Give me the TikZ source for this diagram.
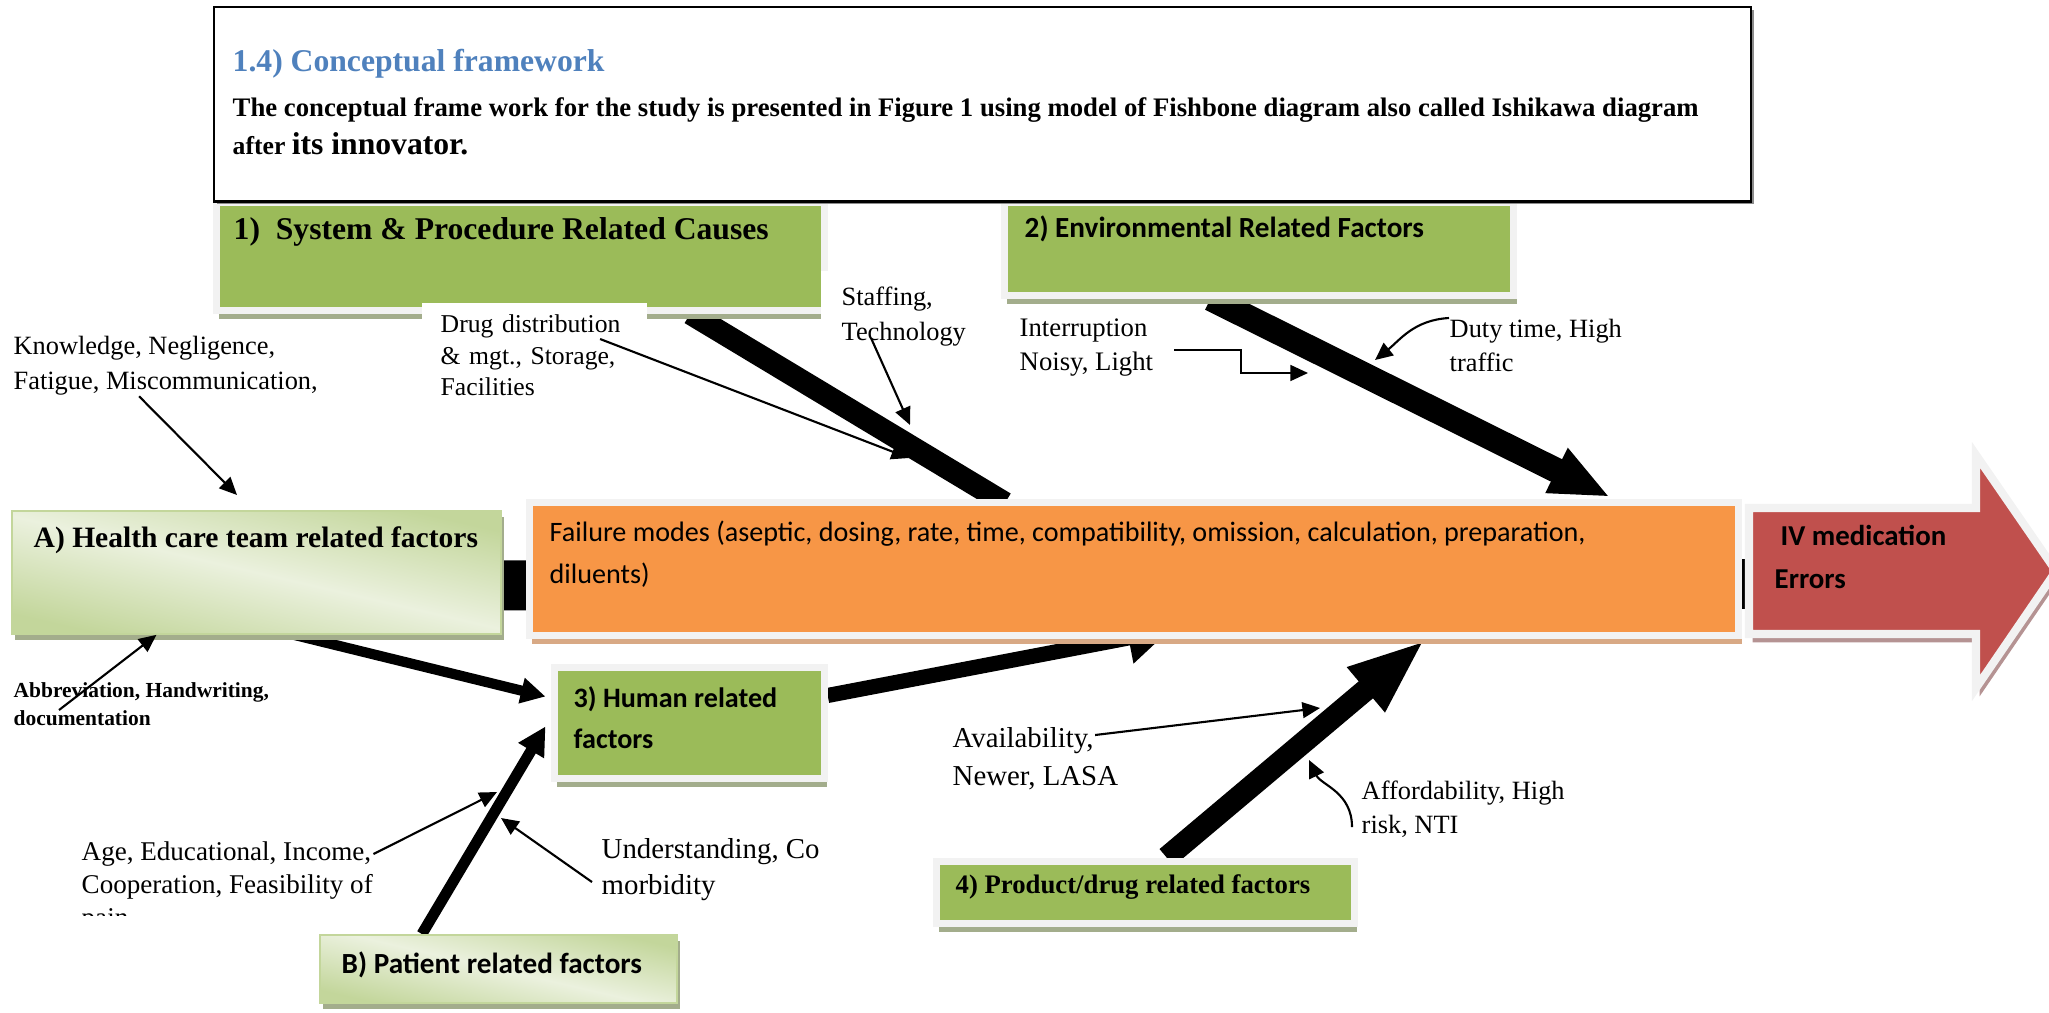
\documentclass[tikz,border=0pt]{standalone}
\usepackage{fontspec}
\setmainfont{Liberation Serif}
\newfontfamily\calibri{Carlito}
\usetikzlibrary{positioning, arrows.meta, shadows, backgrounds, calc}
\definecolor{grass}{HTML}{9BBB59}
\definecolor{tangerine}{HTML}{F79646}
\definecolor{brick}{HTML}{C0504D}
\definecolor{rim}{HTML}{F2F2F2}
\definecolor{pale}{HTML}{EBF1DE}
\definecolor{paledark}{HTML}{C3D69B}
\definecolor{moss}{HTML}{A3AD8C}
\definecolor{peach}{HTML}{D8A985}
\definecolor{mauve}{HTML}{B59393}
\definecolor{heading}{HTML}{4F81BD}

\begin{document}
\begin{tikzpicture}[x=0.01cm, y=-0.01cm,
	wordbox/.style={draw=rim, line width=2pt, inner sep=0pt, anchor=north west,
		drop shadow={shadow xshift=0.9pt, shadow yshift=-2.5pt, fill=#1, opacity=1}},
	greenbox/.style={wordbox=moss, fill=grass},
	palebox/.style={draw=paledark, line width=0.5pt, inner sep=0pt, anchor=north west,
		top color=paledark, bottom color=paledark, middle color=pale, shading angle=-13,
		drop shadow={shadow xshift=0.8pt, shadow yshift=-1.6pt, fill=moss, opacity=1}},
	txt/.style={anchor=west, inner sep=0pt},
	lbl/.style={anchor=north west, align=left, inner sep=0pt},
	arr/.style={line width=0.6pt, -{Triangle[length=5pt, width=4.5pt]}}]
	\useasboundingbox (0,0) rectangle (2049,1012);

	% boxes
	\node[greenbox, minimum width=6.08cm, minimum height=1.08cm] (sys) at (212.5,198.5) {};
	\node[greenbox, minimum width=5.09cm, minimum height=0.93cm] (env) at (1000.5,198.5) {};
	\node[palebox, minimum width=4.89cm, minimum height=1.23cm] (hc) at (11,510) {};
	\node[palebox, minimum width=3.57cm, minimum height=0.68cm] (pat) at (319,934) {};
	\node[greenbox, minimum width=2.70cm, minimum height=1.11cm] (human) at (550.5,663.5) {};
	\node[greenbox, minimum width=4.18cm, minimum height=0.62cm] (prod) at (932.5,857.5) {};
	\node[wordbox=peach, fill=tangerine, minimum width=12.09cm, minimum height=1.33cm] (fm) at (525.5,498.5) {};
	\filldraw[fill=brick, draw=rim, line width=2.3pt,
		drop shadow={shadow xshift=1pt, shadow yshift=-2.4pt, fill=mauve, opacity=1}]
		(1749,508) -- (1976,508) -- (1976,455) -- (2056,571) -- (1976,688) -- (1976,634) -- (1749,634) -- cycle;
	\coordinate (errtail) at (1749,584);

	\node[draw=black, line width=0.7pt, fill=white, inner sep=0pt, anchor=north west,
		minimum width=15.36cm, minimum height=1.94cm,
		drop shadow={shadow xshift=0.8pt, shadow yshift=-0.8pt, fill=black!45, opacity=1}] (frame) at (213,6) {};
	\node[txt, text=heading, font=\bfseries\fontsize{9}{11}\selectfont] (title) at (232,64) {1.4) Conceptual framework};
	\node[txt, font=\bfseries\fontsize{7.6}{9}\selectfont] (intro) at (232,110)
		{The conceptual frame work for the study is presented in Figure 1 using model of Fishbone diagram also called Ishikawa diagram};
	\node[txt, font=\bfseries\fontsize{7.3}{9}\selectfont] (introend) at (232,144) {after {\fontsize{9}{11}\selectfont its innovator.}};

	\node[txt, font=\bfseries\fontsize{9}{11}\selectfont] (systext) at (233,232) {1)\ \ System \& Procedure Related Causes};
	\node[txt, font=\calibri\bfseries\fontsize{8.3}{10}\selectfont] (envtext) at (1024,229) {2) Environmental Related Factors};
	\node[txt, font=\bfseries\fontsize{8.4}{10}\selectfont] (hctext) at (33,540) {A) Health care team related factors};
	\node[txt, align=left, font=\calibri\bfseries\fontsize{8}{11.7}\selectfont] (humantext) at (573,718) {3) Human related\\factors};
	\node[txt, font=\bfseries\fontsize{7.6}{9}\selectfont] (prodtext) at (955,887) {4) Product/drug related factors};
	\node[txt, font=\calibri\bfseries\fontsize{8.3}{10}\selectfont] (pattext) at (341,965) {B) Patient related factors};
	\node[txt, align=left, font=\calibri\fontsize{8}{12}\selectfont] (fmtext) at (549,554)
		{Failure modes (aseptic, dosing, rate, time, compatibility, omission, calculation, preparation,\\diluents)};
	\node[txt, align=left, font=\calibri\bfseries\fontsize{8.2}{12}\selectfont] (errtext) at (1774,557) {\hspace*{0.06cm}IV medication\\Errors};

	% bones
	\coordinate (b1end) at (1005,503);
	\coordinate (b2end) at (1610,497);
	\coordinate (b3end) at (1170,630);
	\coordinate (b4end) at (1425,640);
	\begin{scope}[on background layer]
		\draw[line width=14.2pt] ([yshift=-3.7pt]hc.east) -- (errtail);
		\draw[line width=6.3pt] ([xshift=1.70cm]sys.south) -- (b1end);
		\draw[line width=7.1pt, -{Triangle[length=17pt, width=13pt]}] ([xshift=-0.48cm]env.south) -- (b2end);
		\draw[line width=4.3pt, -{Triangle[length=12pt, width=14pt]}] ([yshift=7.7pt]human.east) -- (b3end);
		\draw[line width=6.3pt, -{Triangle[length=22pt, width=15pt]}] ([xshift=0.215cm]prod.north) -- (b4end);
		\draw[line width=2.9pt, -{Triangle[length=7pt, width=7pt]}] ([xshift=0.375cm]hc.south) -- ([xshift=-0.05cm, yshift=7.4pt]human.west);
		\draw[line width=3.1pt, -{Triangle[length=8pt, width=8pt]}] ([xshift=-0.765cm]pat.north) -- ([xshift=-0.05cm, yshift=-1.1pt]human.west);
	\end{scope}

	% causes
	\node[lbl, font=\fontsize{7.5}{10.2}\selectfont] (know) at (13,335) {Knowledge, Negligence,\\Fatigue, Miscommunication,};
	\node[lbl, fill=white, inner xsep=0.19cm, inner ysep=0.12cm, text width=1.87cm, font=\fontsize{7.3}{9}\selectfont] (drug) at (421,302)
		{Drug distribution\\\& mgt., Storage,\\Facilities};
	\node[lbl, fill=white, inner xsep=0.21cm, inner ysep=0.16cm, font=\fontsize{7.5}{10}\selectfont] (staff) at (820,270) {Staffing,\\Technology};
	\node[lbl, font=\fontsize{7.6}{9.7}\selectfont] (intr) at (1019,318) {Interruption\\Noisy, Light};
	\node[lbl, font=\fontsize{7.5}{9.7}\selectfont] (duty) at (1449,318) {Duty time, High\\traffic};
	\node[lbl, font=\bfseries\fontsize{6.1}{8}\selectfont] (abbr) at (13,682) {Abbreviation, Handwriting,\\documentation};
	\begin{scope}
		\clip (0,0) rectangle (2049,915);
		\node[lbl, font=\fontsize{7.7}{9.4}\selectfont] (age) at (81,841) {Age, Educational, Income,\\Cooperation, Feasibility of\\pain};
	\end{scope}
	\node[lbl, font=\fontsize{8.2}{10.2}\selectfont] (under) at (601,838) {Understanding, Co\\morbidity};
	\node[lbl, font=\fontsize{8.2}{10.8}\selectfont] (avail) at (952,727) {Availability,\\Newer, LASA};
	\node[lbl, font=\fontsize{7.5}{9.7}\selectfont] (afford) at (1361,780) {Affordability, High\\risk, NTI};

	\coordinate (b1a) at (909,458);
	\coordinate (b1b) at (910,425);
	\coordinate (b2a) at (1308,373);
	\coordinate (b2b) at (1375,360);
	\coordinate (pB1) at (497,792);
	\coordinate (pB2) at (501,818);
	\coordinate (b4a) at (1320,708);
	\coordinate (b4b) at (1309,760);
	\draw[arr] ([xshift=1.26cm]know.south west) -- ([xshift=-0.195cm, yshift=0.15cm]hc.north);
	\draw[arr] ([xshift=1.79cm, yshift=-0.37cm]drug.north west) -- (b1a);
	\draw[arr] ([xshift=0.51cm, yshift=-0.68cm]staff.north west) -- (b1b);
	\draw[arr] ([xshift=1.55cm, yshift=-0.32cm]intr.north west) -- ++(67,0) |- (b2a);
	\draw[arr] (duty.north west) .. controls +(-35,2) and +(25,-20) .. (b2b);
	\draw[arr] ([xshift=0.46cm, yshift=-0.28cm]abbr.north west) -- ([xshift=-1.0cm]hc.south);
	\draw[arr] ([yshift=-0.13cm]age.north east) -- (pB1);
	\draw[arr] ([xshift=-0.09cm, yshift=-0.44cm]under.north west) -- (pB2);
	\draw[arr] ([xshift=1.43cm, yshift=-0.08cm]avail.north west) -- (b4a);
	\draw[arr] ([xshift=-0.09cm, yshift=-0.47cm]afford.north west) .. controls +(0,-35) and +(12,25) .. (b4b);
\end{tikzpicture}
\end{document}
